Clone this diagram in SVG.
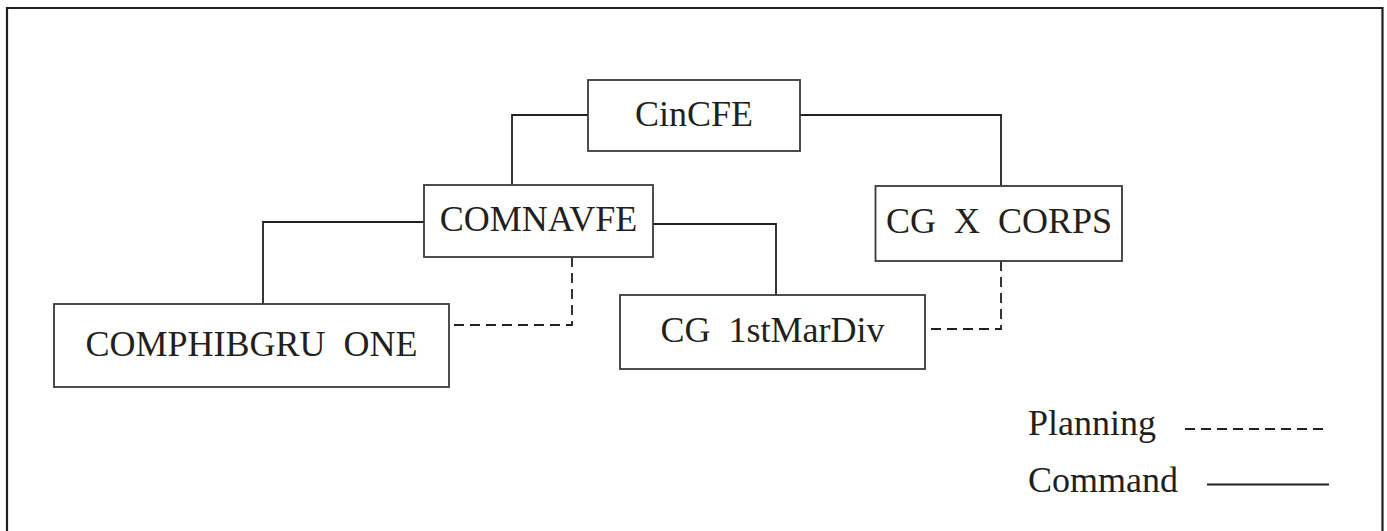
<svg xmlns="http://www.w3.org/2000/svg" width="1387" height="531" viewBox="0 0 1387 531">
<style>
.box{fill:#fff;stroke:#3a3a3a;stroke-width:1.8}
.lbl{font-family:"Liberation Serif","Times New Roman",serif;font-size:36px;fill:#231f20;text-anchor:middle;word-spacing:9px}
.leg{font-family:"Liberation Serif","Times New Roman",serif;font-size:36px;fill:#231f20}
.cmd{fill:none;stroke:#231f20;stroke-width:1.8}
.pln{fill:none;stroke:#231f20;stroke-width:1.8;stroke-dasharray:10,6}
</style>
<rect width="1387" height="531" fill="#fff"/>
<path d="M7,531 V8 H1382.5 V531" fill="none" stroke="#231f20" stroke-width="2.2"/>
<g id="connectors">
<path class="cmd" d="M588,115 H512 V185"/>
<path class="cmd" d="M800,115 H1001 V186"/>
<path class="cmd" d="M424,222 H263 V304"/>
<path class="cmd" d="M653,224 H776 V295"/>
<path class="pln" d="M572,257 V325 H449"/>
<path class="pln" d="M1001,261 V329 H925"/>
</g>
<g id="CinCFE"><rect class="box" x="588" y="80" width="212" height="71"/><text class="lbl" x="694" y="126">CinCFE</text></g>
<g id="COMNAVFE"><rect class="box" x="424" y="185" width="229" height="72"/><text class="lbl" x="538.5" y="231">COMNAVFE</text></g>
<g id="CGXCORPS"><rect class="box" x="875.5" y="186" width="246.5" height="75"/><text class="lbl" x="999" y="233">CG X CORPS</text></g>
<g id="COMPHIBGRUONE"><rect class="box" x="54" y="304" width="395" height="83"/><text class="lbl" x="251.5" y="356">COMPHIBGRU ONE</text></g>
<g id="CG1stMarDiv"><rect class="box" x="620" y="295" width="305" height="74"/><text class="lbl" x="772.5" y="342">CG 1stMarDiv</text></g>
<g id="legend">
<text class="leg" x="1028" y="435">Planning</text>
<path class="pln" d="M1185,429 H1329" stroke-dasharray="12,6.5"/>
<text class="leg" x="1028" y="492">Command</text>
<path class="cmd" d="M1207,484.5 H1329"/>
</g>
</svg>
